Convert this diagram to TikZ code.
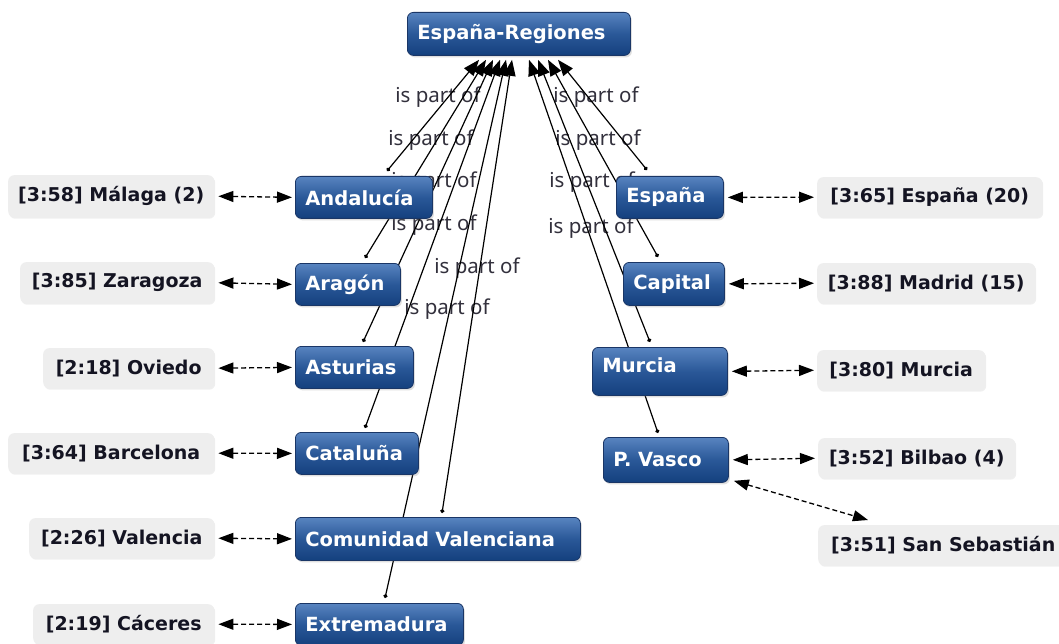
\documentclass[tikz,border=0pt]{standalone}
\usepackage{fontspec}
\newfontfamily\cfont{DejaVu Sans}
\newfontfamily\lfont{Noto Sans}
\usetikzlibrary{arrows.meta,calc,shadows}
\pgfdeclarelayer{paper}
\pgfdeclarelayer{lbl}
\pgfdeclarelayer{edges}
\pgfsetlayers{paper,lbl,edges,main}
\definecolor{ctop}{RGB}{88,132,192}
\definecolor{cmid}{RGB}{42,88,152}
\definecolor{cbot}{RGB}{20,64,126}
\definecolor{cborder}{RGB}{26,54,102}
\definecolor{qfill}{RGB}{238,238,238}
\definecolor{qtext}{RGB}{20,20,34}
\definecolor{ltext}{RGB}{50,48,60}
\tikzset{
  bighead/.tip={Triangle[length=16pt,width=12pt]},
  midhead/.tip={Triangle[length=15pt,width=11pt]},
  dotstart/.tip={Circle[length=4pt]}
}
\begin{document}
\begin{tikzpicture}[x=1pt,y=-1pt,
  concept/.style={draw=cborder, line width=0.8pt, rounded corners=6pt,
    top color=ctop, bottom color=cbot, middle color=cmid, text=white,
    font=\cfont\bfseries\fontsize{19.5}{22}\selectfont,
    anchor=north west, inner xsep=10pt, inner ysep=0pt, align=left,
    drop shadow={opacity=0.25, shadow xshift=1.5pt, shadow yshift=-2pt}},
  quote/.style={fill=qfill, rounded corners=6pt, text=qtext,
    font=\cfont\bfseries\fontsize{19}{21}\selectfont,
    anchor=north west, inner sep=0pt, align=center,
    drop shadow={opacity=0.12, shadow xshift=1pt, shadow yshift=-1.5pt}},
  partof/.style={line width=1.2pt, black, dotstart-bighead},
  link/.style={line width=1.3pt, black, dash pattern=on 5pt off 3pt,
    midhead-midhead, shorten <=4pt, shorten >=3pt},
  plabel/.style={text=ltext, font=\lfont\fontsize{20.5}{22}\selectfont, inner sep=0pt}
]
\begin{pgfonlayer}{paper}
\fill[white] (0,0) rectangle (1059,644);
\end{pgfonlayer}
\useasboundingbox (0,0) rectangle (1059,644);

% concepts
\node[concept, text width=203pt, minimum height=43pt] (top) at (407,12) {España-Regiones};
\node[concept, text width=117pt, minimum height=42pt] (and) at (295,176) {Andalucía};
\node[concept, text width=85pt, minimum height=42pt] (ara) at (295,263) {Aragón};
\node[concept, text width=98pt, minimum height=42pt] (ast) at (295,346) {Asturias};
\node[concept, text width=103pt, minimum height=42pt] (cat) at (295,432) {Cataluña};
\node[concept, text width=265pt, minimum height=43pt] (cv) at (295,517) {Comunidad Valenciana};
\node[concept, text width=148pt, minimum height=42pt] (ext) at (295,603) {Extremadura};
\node[concept, text width=87pt, minimum height=42pt] (esp) at (616,176) {España};
\node[concept, text width=81pt, minimum height=43pt] (cap) at (623,262) {Capital};
\node[concept, text width=115pt, minimum height=48pt, text depth=12pt] (mur) at (592,347) {Murcia};
\node[concept, text width=105pt, minimum height=45pt] (pv) at (603,437) {P. Vasco};

% quotations
\node[quote, minimum width=206pt, minimum height=42pt] (mal) at (8,175) {[3:58] Málaga (2)};
\node[quote, minimum width=194pt, minimum height=41pt] (zar) at (20,262) {[3:85] Zaragoza};
\node[quote, minimum width=171pt, minimum height=40pt] (ovi) at (43,348) {[2:18] Oviedo};
\node[quote, minimum width=206pt, minimum height=40pt] (bar) at (8,433) {[3:64] Barcelona};
\node[quote, minimum width=185pt, minimum height=40pt] (val) at (29,518) {[2:26] Valencia};
\node[quote, minimum width=181pt, minimum height=40pt] (cac) at (33,604) {[2:19] Cáceres};
\node[quote, minimum width=225pt, minimum height=40pt] (qesp) at (817,177) {[3:65] España (20)};
\node[quote, minimum width=218pt, minimum height=40pt] (mad) at (817,263) {[3:88] Madrid (15)};
\node[quote, minimum width=168pt, minimum height=40pt] (qmur) at (817,350) {[3:80] Murcia};
\node[quote, minimum width=197pt, minimum height=40pt] (bil) at (818,438) {[3:52] Bilbao (4)};
\node[quote, minimum width=250pt, minimum height=40pt] (ss) at (818,525) {[3:51] San Sebastián};

% labels
\begin{pgfonlayer}{lbl}
\node[plabel] (l1) at (438,97) {is part of};
\node[plabel] (l2) at (431,140) {is part of};
\node[plabel] (l3) at (434,182) {is part of};
\node[plabel] (l4) at (434,225) {is part of};
\node[plabel] (l5) at (477,268) {is part of};
\node[plabel] (l6) at (447,309) {is part of};
\node[plabel] (l7) at (596,97) {is part of};
\node[plabel] (l8) at (598,140) {is part of};
\node[plabel] (l9) at (592,182) {is part of};
\node[plabel] (l10) at (591,228) {is part of};
\end{pgfonlayer}

% is-part-of connectors
\begin{pgfonlayer}{edges}
\draw[partof] ($(and.north west)+(92,-5)$) -- ($(top.south west)+(72,4)$);
\draw[partof] ($(ara.north west)+(70,-5)$) -- ($(top.south west)+(79,4)$);
\draw[partof] ($(ast.north west)+(68,-4)$) -- ($(top.south west)+(86,4)$);
\draw[partof] ($(cat.north west)+(70,-4)$) -- ($(top.south west)+(93,4)$);
\draw[partof] ($(ext.north west)+(90,-5)$) -- ($(top.south west)+(99,4)$);
\draw[partof] ($(cv.north west)+(147,-4)$) -- ($(top.south west)+(105,4)$);
\draw[partof] ($(pv.north west)+(55,-4)$) -- ($(top.south west)+(122,4)$);
\draw[partof] ($(mur.north west)+(58,-5)$) -- ($(top.south west)+(131,4)$);
\draw[partof] ($(cap.north west)+(35,-5)$) -- ($(top.south west)+(141,4)$);
\draw[partof] ($(esp.north west)+(31,-6)$) -- ($(top.south west)+(151,4)$);
\end{pgfonlayer}

% quotation links
\draw[link] (mal.east) -- (and.west);
\draw[link] (zar.east) -- (ara.west);
\draw[link] (ovi.east) -- (ast.west);
\draw[link] (bar.east) -- (cat.west);
\draw[link] (val.east) -- (cv.west);
\draw[link] (cac.east) -- (ext.west);
\draw[link] (esp.east) -- (qesp.west);
\draw[link] (cap.east) -- (mad.west);
\draw[link] (mur.east) -- (qmur.west);
\draw[link] (pv.east) -- (bil.west);
\draw[link, shorten <=0pt, shorten >=0pt] ($(pv.south east)+(5,-2)$) -- ($(ss.north west)+(50,-5)$);
\end{tikzpicture}
\end{document}
